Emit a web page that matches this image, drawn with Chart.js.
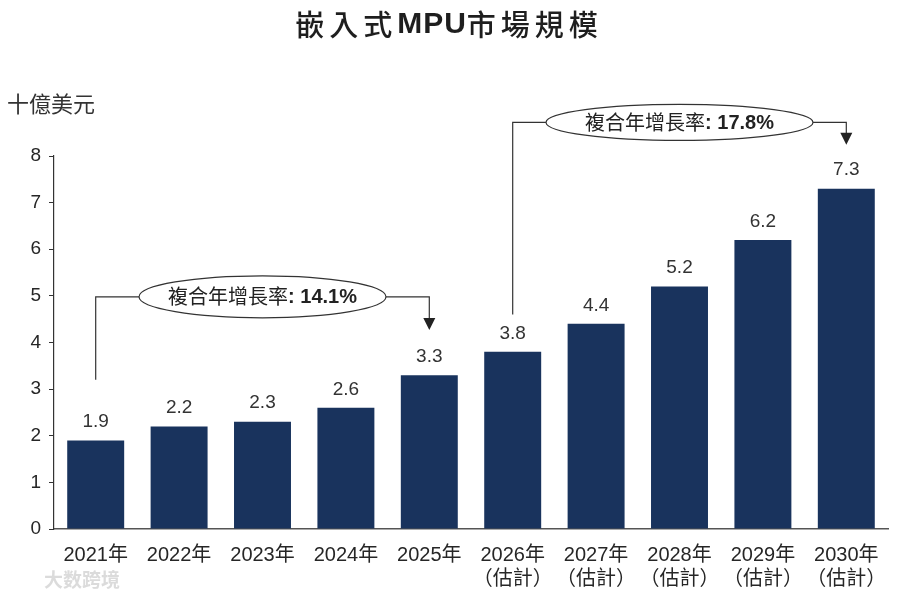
<!DOCTYPE html>
<html>
<head>
<meta charset="utf-8">
<script src="https://cdn.jsdelivr.net/npm/chart.js@4.4.1/dist/chart.umd.min.js"></script>
<style>
  html, body { margin: 0; padding: 0; background: #fff; }
  #wrap { width: 900px; height: 597px; position: relative; }
</style>
</head>
<body>
<div id="wrap"><canvas id="mpuChart"></canvas></div>
<script>
// datos del gráfico
const years = ['2021年', '2022年', '2023年', '2024年', '2025年', '2026年', '2027年', '2028年', '2029年', '2030年'];
const estimated = [false, false, false, false, false, true, true, true, true, true];
const marketSize = [1.9, 2.2, 2.3, 2.6, 3.3, 3.8, 4.4, 5.2, 6.2, 7.3];
const yTicks = [0, 1, 2, 3, 4, 5, 6, 7, 8];
const cagrText = ['14.1%', '17.8%'];
const cagrFrom = [0, 5];
const cagrTo = [4, 9];

const unitText = '十億美元';
const BAR = '#19335d';
const TXT = '#262626';
const FONT = '"Liberation Sans", Arial, "Noto Sans CJK TC", sans-serif';

const labels = years.map((y, i) => estimated[i] ? [y, '（估計）'] : y);

// geometría de las flechas de CAGR (en unidades del eje y)
const cagrGeom = [
    { start: 3.2, level: 4.98, tip: 4.27, ry: 21, pad: 29 },
    { start: 4.6, level: 8.72, tip: 8.24, ry: 18, pad: 39 }
];

const decorPlugin = {
    id: 'decor',
    afterDraw(chart) {
        const ctx = chart.ctx;
        const xs = chart.scales.x, ys = chart.scales.y;

        // título
        ctx.save();
        ctx.fillStyle = '#1e1e1e';
        ctx.textBaseline = 'middle';
        const parts = [
            { t: '嵌入式', f: '500 29px "Noto Sans CJK TC"', sp: 5 },
            { t: 'MPU', f: 'bold 30px "Liberation Sans", Arial', sp: 1 },
            { t: '市場規模', f: '500 29px "Noto Sans CJK TC"', sp: 5 }
        ];
        let total = 0;
        parts.forEach(p => {
            ctx.font = p.f;
            for (const ch of p.t) total += ctx.measureText(ch).width + p.sp;
        });
        let x = 449 - total / 2;
        parts.forEach(p => {
            ctx.font = p.f;
            for (const ch of p.t) {
                ctx.fillText(ch, x, 25);
                x += ctx.measureText(ch).width + p.sp;
            }
        });

        // unidad
        ctx.font = '22px "Noto Sans CJK TC"';
        ctx.fillStyle = '#333';
        ctx.textAlign = 'left';
        ctx.fillText(unitText, 7, 104);

        // marca de agua
        ctx.font = 'bold 19px "Noto Sans CJK SC"';
        ctx.fillStyle = 'rgba(215,215,215,0.9)';
        ctx.fillText('大数跨境', 44, 580);
        ctx.restore();

        // valores sobre las barras
        const meta = chart.getDatasetMeta(0);
        ctx.save();
        ctx.font = '19px ' + FONT;
        ctx.fillStyle = '#333';
        ctx.textAlign = 'center';
        ctx.textBaseline = 'bottom';
        meta.data.forEach((bar, i) => {
            ctx.fillText(marketSize[i].toFixed(1), bar.x, bar.y - 9);
        });
        ctx.restore();

        // anotaciones de CAGR
        ctx.save();
        ctx.strokeStyle = '#333';
        ctx.lineWidth = 1.2;
        cagrText.forEach((txt, k) => {
            const g = cagrGeom[k];
            const x0 = xs.getPixelForValue(cagrFrom[k]);
            const x1 = xs.getPixelForValue(cagrTo[k]);
            const yStart = ys.getPixelForValue(g.start);
            const yLevel = ys.getPixelForValue(g.level);
            const yTip = ys.getPixelForValue(g.tip);
            const cx = (x0 + x1) / 2;

            const pre = '複合年增長率';
            const post = ': ' + txt;
            ctx.font = '20px "Noto Sans CJK TC"';
            const w1 = ctx.measureText(pre).width;
            ctx.font = 'bold 20px "Liberation Sans", Arial';
            const w2 = ctx.measureText(post).width;
            const rx = (w1 + w2) / 2 + g.pad;
            const ry = g.ry;

            ctx.beginPath();
            ctx.moveTo(x0, yStart);
            ctx.lineTo(x0, yLevel);
            ctx.lineTo(cx - rx, yLevel);
            ctx.moveTo(cx + rx, yLevel);
            ctx.lineTo(x1, yLevel);
            ctx.lineTo(x1, yTip - 11);
            ctx.stroke();

            ctx.fillStyle = '#222';
            ctx.beginPath();
            ctx.moveTo(x1 - 6, yTip - 12);
            ctx.lineTo(x1 + 6, yTip - 12);
            ctx.lineTo(x1, yTip);
            ctx.closePath();
            ctx.fill();

            ctx.beginPath();
            ctx.ellipse(cx, yLevel, rx, ry, 0, 0, Math.PI * 2);
            ctx.fillStyle = '#fff';
            ctx.fill();
            ctx.stroke();

            ctx.fillStyle = '#222';
            ctx.textBaseline = 'middle';
            ctx.textAlign = 'left';
            const tx = cx - (w1 + w2) / 2;
            ctx.font = '20px "Noto Sans CJK TC"';
            ctx.fillText(pre, tx, yLevel);
            ctx.font = 'bold 20px "Liberation Sans", Arial';
            ctx.fillText(post, tx + w1, yLevel + 1);
        });
        ctx.restore();
    }
};

new Chart(document.getElementById('mpuChart'), {
    type: 'bar',
    data: {
        labels: labels,
        datasets: [{
            data: marketSize,
            backgroundColor: BAR,
            borderWidth: 0,
            categoryPercentage: 1,
            barPercentage: 0.683
        }]
    },
    options: {
        responsive: true,
        maintainAspectRatio: false,
        animation: false,
        layout: { padding: { left: 0, right: 12, top: 156, bottom: 0 } },
        plugins: {
            legend: { display: false },
            tooltip: { enabled: false }
        },
        scales: {
            x: {
                grid: { display: false },
                border: { display: true, color: '#555', width: 1.5 },
                ticks: {
                    color: TXT,
                    font: { family: FONT, size: 20, lineHeight: 1.2 },
                    padding: 6,
                    maxRotation: 0,
                    autoSkip: false
                },
                afterFit(scale) { scale.height = 68; }
            },
            y: {
                min: 0,
                max: 8,
                afterBuildTicks(scale) { scale.ticks = yTicks.map(v => ({ value: v })); },
                grid: { drawOnChartArea: false, drawTicks: true, tickLength: 5, color: '#333' },
                border: { display: true, color: '#333', width: 1.2 },
                ticks: {
                    color: TXT,
                    font: { family: FONT, size: 19 },
                    padding: 8
                },
                afterFit(scale) { scale.width = 54; }
            }
        }
    },
    plugins: [decorPlugin]
});
</script>
</body>
</html>
